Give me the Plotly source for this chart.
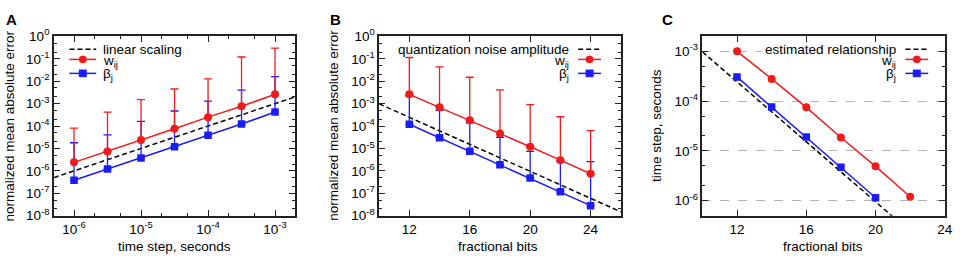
import plotly.graph_objects as go

# ---------------- data ----------------
# Panel A: error vs time step
dt_A = [1e-6, 3.16e-6, 1e-5, 3.16e-5, 1e-4, 3.16e-4, 1e-3]
w_A = [2.4e-6, 7.4e-6, 2.4e-5, 7.6e-5, 2.5e-4, 7.6e-4, 2.6e-3]
w_A_top = [8.1e-5, 4.2e-4, 1.5e-3, 4.5e-3, 1.26e-2, 0.12, 0.30]
b_A = [3.8e-7, 1.2e-6, 3.8e-6, 1.2e-5, 3.9e-5, 1.23e-4, 4.2e-4]
b_A_top = [1.8e-5, 4.0e-5, 1.6e-4, 4.7e-4, 1.3e-3, 4.0e-3, 1.6e-2]
lin_A_x = [5e-7, 2e-3]          # linear scaling: error = time step

# Panel B: error vs fractional bits
bits_B = [12, 14, 16, 18, 20, 22, 24]
w_B = [2.6e-3, 6.9e-4, 1.8e-4, 4.6e-5, 1.2e-5, 3.0e-6, 7.4e-7]
w_B_top = [0.114, 4.4e-2, 1.5e-2, 4.1e-3, 9.1e-4, 2.6e-4, 6.3e-5]
b_B = [1.2e-4, 3.0e-5, 7.6e-6, 1.9e-6, 4.8e-7, 1.17e-7, 2.8e-8]
b_B_top = [2.2e-3, 5.0e-4, 1.4e-4, 3.1e-5, 7.4e-6, 2.5e-6, 2.6e-6]
noise_B_x = [10, 26]            # quantization noise amplitude = 2^-bits

# Panel C: time step vs fractional bits
bits_C_w = [12, 14, 16, 18, 20, 22]
dt_C_w = [1.0e-3, 2.8e-4, 7.5e-5, 1.86e-5, 4.9e-6, 1.2e-6]
bits_C_b = [12, 14, 16, 18, 20]
dt_C_b = [3.07e-4, 7.6e-5, 1.9e-5, 4.7e-6, 1.15e-6]
est_C_x = [10, 22]              # estimated relationship = 2^-bits

# tick labels
err_tickvals = [1e0, 1e-1, 1e-2, 1e-3, 1e-4, 1e-5, 1e-6, 1e-7, 1e-8]
err_ticktext = ["10<sup>0</sup>", "10<sup>-1</sup>", "10<sup>-2</sup>", "10<sup>-3</sup>",
                "10<sup>-4</sup>", "10<sup>-5</sup>", "10<sup>-6</sup>", "10<sup>-7</sup>",
                "10<sup>-8</sup>"]
dt_tickvals = [1e-6, 1e-5, 1e-4, 1e-3]
dt_ticktext = ["10<sup>-6</sup>", "10<sup>-5</sup>", "10<sup>-4</sup>", "10<sup>-3</sup>"]
bits_tickvals = [12, 16, 20, 24]

# ---------------- style ----------------
RED = "#f01c1c"
BLUE = "#1c1cf5"
FONT = "Liberation Sans, Arial, Helvetica, sans-serif"
W, H = 964, 265


def fx(p):
    return p / W


def fy(p):
    return 1 - p / H


TOP, BOT = 28.3, 220.7
dom_y = [fy(BOT), fy(TOP)]
dom_A = [fx(54.3), fx(297.7)]
dom_B = [fx(382.3), fx(626.0)]
dom_C = [fx(708.3), fx(952.7)]

fig = go.Figure()


def add_err_series(x, y, top, color, symbol, xa, ya):
    fig.add_trace(go.Scatter(
        x=x, y=y, mode="lines+markers", xaxis=xa, yaxis=ya, showlegend=False,
        line=dict(color=color, width=1.5),
        marker=dict(color=color, symbol=symbol, size=8 if symbol == "circle" else 7.5),
        error_y=dict(type="data", symmetric=False,
                     array=[t - v for t, v in zip(top, y)],
                     arrayminus=[0] * len(y),
                     color=color, thickness=1.3, width=4)))


# Panel A
fig.add_trace(go.Scatter(x=lin_A_x, y=lin_A_x, mode="lines", xaxis="x", yaxis="y",
                         showlegend=False, line=dict(color="black", width=1.5, dash="5px,3px")))
add_err_series(dt_A, b_A, b_A_top, BLUE, "square", "x", "y")
add_err_series(dt_A, w_A, w_A_top, RED, "circle", "x", "y")

# Panel B
fig.add_trace(go.Scatter(x=noise_B_x, y=[2.0 ** (-b) for b in noise_B_x], mode="lines",
                         xaxis="x2", yaxis="y2", showlegend=False,
                         line=dict(color="black", width=1.5, dash="5px,3px")))
add_err_series(bits_B, b_B, b_B_top, BLUE, "square", "x2", "y2")
add_err_series(bits_B, w_B, w_B_top, RED, "circle", "x2", "y2")

# Panel C
fig.add_trace(go.Scatter(x=est_C_x, y=[2.0 ** (-b) for b in est_C_x], mode="lines",
                         xaxis="x3", yaxis="y3", showlegend=False,
                         line=dict(color="black", width=1.5, dash="5px,3px")))
fig.add_trace(go.Scatter(x=bits_C_b, y=dt_C_b, mode="lines+markers", xaxis="x3", yaxis="y3",
                         showlegend=False, line=dict(color=BLUE, width=1.5),
                         marker=dict(color=BLUE, symbol="square", size=7.5)))
fig.add_trace(go.Scatter(x=bits_C_w, y=dt_C_w, mode="lines+markers", xaxis="x3", yaxis="y3",
                         showlegend=False, line=dict(color=RED, width=1.5),
                         marker=dict(color=RED, symbol="circle", size=8)))

axis_common = dict(showline=True, linecolor="#222", linewidth=1.5, mirror="ticks",
                   ticks="inside", ticklen=6, tickcolor="#222", tickwidth=1,
                   zeroline=False,
                   tickfont=dict(family=FONT, size=13.5, color="black"))
minor_log = dict(ticks="inside", ticklen=3, dtick="D2", tickcolor="#222", showgrid=False)

fig.update_layout(
    width=W, height=H, margin=dict(l=0, r=0, t=0, b=0),
    paper_bgcolor="white", plot_bgcolor="white",
    font=dict(family=FONT, size=13.5, color="black"),
    xaxis=dict(domain=dom_A, anchor="y", type="log", showgrid=False,
               range=[-6.301, -2.699], tickmode="array",
               tickvals=dt_tickvals, ticktext=dt_ticktext, minor=minor_log, **axis_common),
    yaxis=dict(domain=dom_y, anchor="x", type="log", range=[-8, 0], showgrid=False,
               tickmode="array", tickvals=err_tickvals, ticktext=err_ticktext,
               minor=minor_log, **axis_common),
    xaxis2=dict(domain=dom_B, anchor="y2", range=[10, 26], tickmode="array", showgrid=False,
                tickvals=bits_tickvals, **axis_common),
    yaxis2=dict(domain=dom_y, anchor="x2", type="log", range=[-8, 0], showgrid=False,
                tickmode="array", tickvals=err_tickvals, ticktext=err_ticktext,
                minor=minor_log, **axis_common),
    xaxis3=dict(domain=dom_C, anchor="y3", range=[10, 24], tickmode="array", showgrid=False,
                tickvals=bits_tickvals, **axis_common),
    yaxis3=dict(domain=dom_y, anchor="x3", type="log", range=[-6.301, -2.699],
                tickmode="array", tickvals=dt_tickvals, ticktext=dt_ticktext,
                minor=minor_log, showgrid=True, gridcolor="#b4b4b4",
                gridwidth=1, griddash="dash", **axis_common),
)

annotations = []
shapes = []


def txt(text, x, y, xanchor="center", yanchor="middle", size=13.5, angle=0, bold=False):
    annotations.append(dict(
        text=f"<b>{text}</b>" if bold else text, x=fx(x), y=fy(y), xref="paper", yref="paper",
        xanchor=xanchor, yanchor=yanchor, showarrow=False, textangle=angle,
        font=dict(family=FONT, size=size, color="black")))


# panel letters
txt("A", 4, 10, xanchor="left", size=15, bold=True)
txt("B", 331, 10, xanchor="left", size=15, bold=True)
txt("C", 666, 10, xanchor="left", size=15, bold=True)

# axis titles
txt("normalized mean absolute error", 10, 124, angle=-90)
txt("normalized mean absolute error", 336, 124, angle=-90)
txt("time step, seconds", 662, 124, angle=-90)
txt("time step, seconds", 176, 254)
txt("fractional bits", 502, 254)
txt("fractional bits", 830, 254)

# white key box in panel C (hides the grid line behind the key text)
shapes.append(dict(type="rect", xref="paper", yref="paper",
                   x0=fx(768), x1=fx(944), y0=fy(50), y1=fy(36),
                   fillcolor="white", line=dict(width=0), layer="above"))


def key_entry(xs0, xs1, y, kind):
    if kind == "dash":
        shapes.append(dict(type="line", xref="paper", yref="paper", x0=fx(xs0), x1=fx(xs1),
                           y0=fy(y), y1=fy(y), line=dict(color="black", width=1.5, dash="5px,3px")))
        return
    color = RED if kind == "circle" else BLUE
    shapes.append(dict(type="line", xref="paper", yref="paper", x0=fx(xs0), x1=fx(xs1),
                       y0=fy(y), y1=fy(y), line=dict(color=color, width=1.5)))
    xm = (xs0 + xs1) / 2
    r = 3.8
    shapes.append(dict(type="circle" if kind == "circle" else "rect",
                       xref="paper", yref="paper",
                       x0=fx(xm - r), x1=fx(xm + r), y0=fy(y + r), y1=fy(y - r),
                       fillcolor=color, line=dict(color=color, width=0.5)))


KEY_Y = [42, 53, 68]
# Panel A key (sample left, text right)
key_entry(70, 97, KEY_Y[0], "dash")
key_entry(70, 97, KEY_Y[1], "circle")
key_entry(70, 97, KEY_Y[2], "square")
txt("linear scaling", 102, KEY_Y[0], xanchor="left")
txt("w<sub>ij</sub>", 102, KEY_Y[1] + 2, xanchor="left")
txt("β<sub>j</sub>", 102, KEY_Y[2] + 1, xanchor="left")

# Panel B key (text left, sample right)
key_entry(583, 606, KEY_Y[0], "dash")
key_entry(583, 606, KEY_Y[1], "circle")
key_entry(583, 606, KEY_Y[2], "square")
txt("quantization noise amplitude", 576, KEY_Y[0], xanchor="right")
txt("w<sub>ij</sub>", 576, KEY_Y[1] + 2, xanchor="right")
txt("β<sub>j</sub>", 576, KEY_Y[2] + 1, xanchor="right")

# Panel C key
key_entry(913, 936, KEY_Y[0], "dash")
key_entry(913, 936, KEY_Y[1], "circle")
key_entry(913, 936, KEY_Y[2], "square")
txt("estimated relationship", 906, KEY_Y[0], xanchor="right")
txt("w<sub>ij</sub>", 906, KEY_Y[1] + 2, xanchor="right")
txt("β<sub>j</sub>", 906, KEY_Y[2] + 1, xanchor="right")

fig.update_layout(annotations=annotations, shapes=shapes)
fig.write_html("out.html", config={"displayModeBar": False},
               post_script="document.body.style.margin='0';document.body.style.padding='0';")
